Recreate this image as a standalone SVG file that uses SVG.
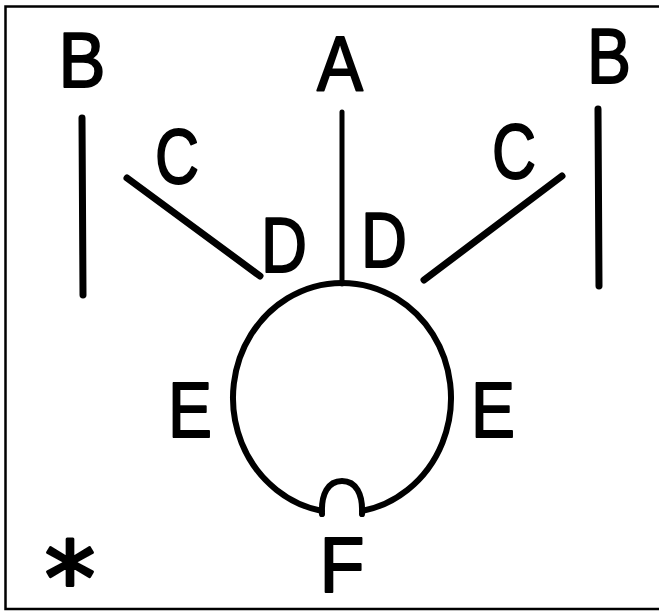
<svg xmlns="http://www.w3.org/2000/svg" width="659" height="612" viewBox="0 0 659 612">
<style>
.lbl{font-family:"Liberation Sans",Arial,sans-serif;font-size:78px;fill:#000;stroke:#000;stroke-width:1.9;stroke-linejoin:round;text-anchor:middle}
.ln{stroke:#000;stroke-width:7;stroke-linecap:round;fill:none}
.sh{stroke:#000;stroke-width:6;fill:none;stroke-linecap:round;stroke-linejoin:round}
</style>
<rect width="659" height="612" fill="#fff"/>
<g id="frame"><path d="M 662 6.5 L 5.5 6.5 L 5.5 609 L 662 609" fill="none" stroke="#000" stroke-width="2.5"/></g>
<g id="connectors">
<line class="ln" x1="82" y1="118" x2="83" y2="295"/>
<line class="ln" x1="598" y1="109" x2="599" y2="286"/>
<line class="ln" x1="342" y1="112" x2="342" y2="284" style="stroke-width:5"/>
<line class="ln" x1="127" y1="178" x2="260" y2="276"/>
<line class="ln" x1="424" y1="280" x2="562" y2="176"/>
</g>
<g id="bulb">
<path class="sh" d="M 322 511 A 109 115 0 1 1 362 511"/>
<path class="sh" d="M 322 514 C 321 494, 328 481, 342 481 C 356 481, 363 494, 362 514"/>
</g>
<g id="B-left"><text class="lbl" x="82" y="87" textLength="47" lengthAdjust="spacingAndGlyphs">B</text></g>
<g id="A"><text class="lbl" x="340" y="91" textLength="46" lengthAdjust="spacingAndGlyphs">A</text></g>
<g id="B-right"><text class="lbl" x="609" y="83" textLength="44" lengthAdjust="spacingAndGlyphs">B</text></g>
<g id="C-left"><text class="lbl" x="177" y="183" textLength="44" lengthAdjust="spacingAndGlyphs">C</text></g>
<g id="C-right"><text class="lbl" x="514" y="178" textLength="44" lengthAdjust="spacingAndGlyphs">C</text></g>
<g id="D-left"><text class="lbl" x="284" y="272" textLength="46" lengthAdjust="spacingAndGlyphs">D</text></g>
<g id="D-right"><text class="lbl" x="384" y="267" textLength="46" lengthAdjust="spacingAndGlyphs">D</text></g>
<g id="E-left"><text class="lbl" x="190" y="437" textLength="44" lengthAdjust="spacingAndGlyphs">E</text></g>
<g id="E-right"><text class="lbl" x="493" y="437" textLength="44" lengthAdjust="spacingAndGlyphs">E</text></g>
<g id="F"><text class="lbl" x="342" y="592" textLength="45" lengthAdjust="spacingAndGlyphs">F</text></g>
<g id="star"><text class="lbl" x="0" y="0" transform="translate(70,559) rotate(180) translate(0,49)" style="font-family:'DejaVu Sans',sans-serif;font-size:102px;stroke-width:3">*</text></g>
</svg>
